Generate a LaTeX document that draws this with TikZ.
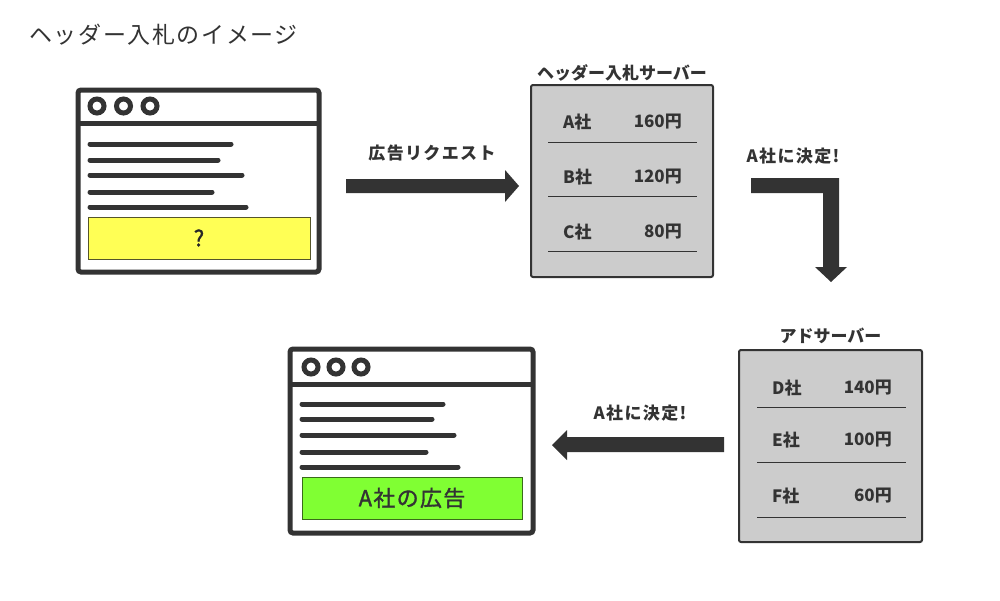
\documentclass[tikz,border=0pt]{standalone}
\usepackage{fontspec}
\setmainfont{Noto Sans CJK JP}
\newfontfamily\jpt[LetterSpace=7]{Noto Sans CJK JP}
\newfontfamily\jpl[LetterSpace=8]{Noto Sans CJK JP}
\newfontfamily\jpm[LetterSpace=6,FakeBold=1.5]{Noto Sans CJK JP}
\definecolor{dk}{HTML}{333333}
\definecolor{srv}{HTML}{CCCCCC}
\definecolor{yel}{HTML}{FFFF55}
\definecolor{grn}{HTML}{80FF33}
\definecolor{olv}{HTML}{55552A}
\definecolor{gdk}{HTML}{3A6B1A}
\tikzset{
  frame/.style={draw=dk, line width=5pt, rounded corners=3pt, fill=white, inner sep=0pt},
  sep/.style={draw=dk, line width=5pt},
  dot/.style={circle, draw=dk, line width=5pt, minimum size=14pt, inner sep=0pt},
  tline/.style={draw=dk, line width=5pt, line cap=round},
  adbox/.style={inner sep=0pt, line width=0.8pt},
  srvbox/.style={draw=dk, fill=srv, line width=2pt, rounded corners=2pt, inner sep=0pt},
  rule/.style={draw=dk, line width=0.8pt},
  row/.style={font=\bfseries\fontsize{17}{20}\selectfont, text=dk, inner sep=0pt},
  lab/.style={font=\jpl\bfseries\fontsize{17}{20}\selectfont, text=dk, inner sep=0pt},
  blk/.style={fill=dk, draw=none},
}
\begin{document}
\begin{tikzpicture}[x=1pt,y=-1pt]
\useasboundingbox (0,0) rectangle (1000,600);
% title
\node[anchor=west, inner sep=0pt, text=dk, font=\jpt\fontsize{23}{27}\selectfont] (title) at (29,35) {ヘッダー入札のイメージ};

% browser 1
\node[frame, minimum width=241pt, minimum height=182pt] (b1) at (198.5,181) {};
\draw[sep] (78,123) -- (319,123);
\node[dot] (b1c1) at (97,106) {};
\node[dot] (b1c2) at (123.5,106) {};
\node[dot] (b1c3) at (150,106) {};
\draw[tline] (90,144) -- (231,144);
\draw[tline] (90,160) -- (218,160);
\draw[tline] (90,175) -- (242,175);
\draw[tline] (90,192) -- (212,192);
\draw[tline] (90,207) -- (246,207);
\node[adbox, draw=olv, fill=yel, minimum width=222pt, minimum height=42pt, font=\jpm\fontsize{22}{26}\selectfont, text=black!85] (ad1) at (199,238) {?};

% arrow 1
\node[lab] (l1) at (432,153) {広告リクエスト};
\fill[blk] (346,179) -- (505,179) -- (505,170) -- (519,186) -- (505,202) -- (505,193) -- (346,193) -- cycle;

% header bidding server
\node[row] (s1t) at (622,73) {ヘッダー入札サーバー};
\node[srvbox, minimum width=182pt, minimum height=192pt] (s1) at (622,181) {};
\node[row, anchor=west] (s1a) at (563,122) {A社};
\node[row, anchor=east] (s1ap) at (682,122) {160円};
\draw[rule] (548,142) -- (697,142);
\node[row, anchor=west] (s1b) at (563,177) {B社};
\node[row, anchor=east] (s1bp) at (682,177) {120円};
\draw[rule] (548,196) -- (697,196);
\node[row, anchor=west] (s1c) at (563,232) {C社};
\node[row, anchor=east] (s1cp) at (682,232) {80円};
\draw[rule] (548,251) -- (697,251);

% bent arrow
\node[lab] (l2) at (793,156) {A社に決定!};
\fill[blk] (751,178) -- (839,178) -- (839,267) -- (847,267) -- (831,282) -- (815,267) -- (823,267) -- (823,193) -- (751,193) -- cycle;

% ad server
\node[row] (s2t) at (830.5,336) {アドサーバー};
\node[srvbox, minimum width=183pt, minimum height=192pt] (s2) at (830.5,446) {};
\node[row, anchor=west] (s2d) at (772,388) {D社};
\node[row, anchor=east] (s2dp) at (892,388) {140円};
\draw[rule] (757,407) -- (906,407);
\node[row, anchor=west] (s2e) at (772,440) {E社};
\node[row, anchor=east] (s2ep) at (892,440) {100円};
\draw[rule] (757,462) -- (906,462);
\node[row, anchor=west] (s2f) at (772,496) {F社};
\node[row, anchor=east] (s2fp) at (892,496) {60円};
\draw[rule] (757,517) -- (906,517);

% arrow 2
\node[lab] (l3) at (640,413) {A社に決定!};
\fill[blk] (724,437) -- (567,437) -- (567,430) -- (552,445) -- (567,460) -- (567,452) -- (724,452) -- cycle;

% browser 2
\node[frame, minimum width=243pt, minimum height=184pt] (b2) at (411.5,441) {};
\draw[sep] (290,384) -- (533,384);
\node[dot] (b2c1) at (311,367) {};
\node[dot] (b2c2) at (336,367) {};
\node[dot] (b2c3) at (361,367) {};
\draw[tline] (302,404) -- (443,404);
\draw[tline] (302,419) -- (432,419);
\draw[tline] (302,435) -- (454,435);
\draw[tline] (302,452) -- (426,452);
\draw[tline] (302,467) -- (458,467);
\node[adbox, draw=gdk, fill=grn, minimum width=220pt, minimum height=42pt, font=\jpm\fontsize{22}{26}\selectfont, text=dk] (ad2) at (412,498) {A社の広告};
\end{tikzpicture}
\end{document}
